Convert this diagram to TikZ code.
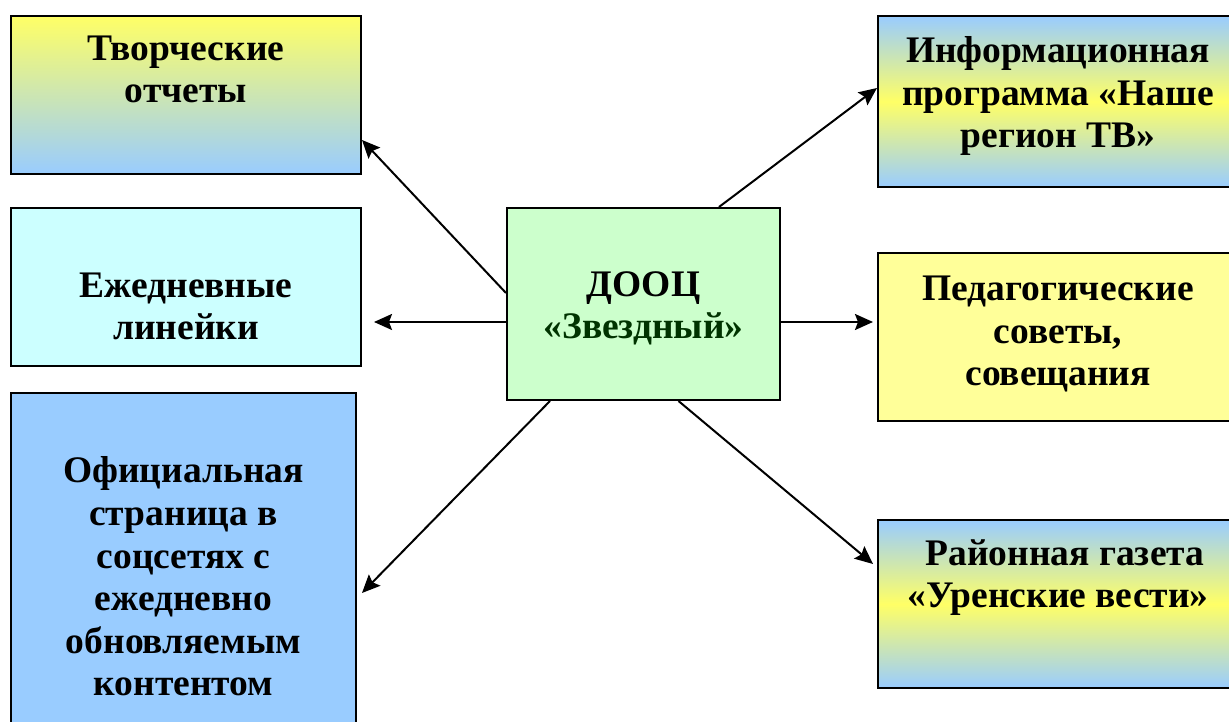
\documentclass[tikz,border=0pt]{standalone}
\usepackage{fontspec}
\setmainfont{Liberation Serif}
\usetikzlibrary{arrows.meta}
\definecolor{boxyellow}{HTML}{FFFF66}
\definecolor{boxblue}{HTML}{99CCFF}
\definecolor{boxcyan}{HTML}{CCFFFF}
\definecolor{boxgreen}{HTML}{CCFFCC}
\definecolor{paleyellow}{HTML}{FFFF99}
\definecolor{darkgreen}{HTML}{003300}
\begin{document}
\begin{tikzpicture}[x=1pt,y=1pt,
  box/.style={draw,line width=2pt,anchor=north west,inner sep=0pt,align=center,
    font=\fontsize{37.5}{42.6}\selectfont\bfseries},
  tvbox/.style={top color=boxblue,bottom color=boxblue,middle color=boxyellow},
  arr/.style={line width=2pt,-{Stealth[length=18pt,width=16pt,inset=3pt]}}]
\useasboundingbox (0,0) rectangle (1229,722);
\node[box,minimum width=350pt,minimum height=158pt,text height=87pt,text depth=71pt,
  top color=boxyellow,bottom color=boxblue] (tvor) at (10,707) {Творческие\\отчеты};
\node[box,minimum width=350pt,minimum height=158pt,text height=132pt,text depth=26pt,
  fill=boxcyan] (ezh) at (10,515) {Ежедневные\\линейки};
\node[box,minimum width=345pt,minimum height=348pt,text height=303pt,text depth=45pt,
  fill=boxblue] (ofic) at (10,330) {Официальная\\страница в\\соцсетях с\\ежедневно\\обновляемым\\контентом};
\node[box,minimum width=273pt,minimum height=192pt,text height=131pt,text depth=61pt,
  fill=boxgreen] (zvezd) at (506,515) {ДООЦ\\\textcolor{darkgreen}{«Звездный»}};
\node[box,minimum width=360pt,minimum height=171pt,text height=132pt,text depth=39pt,
  tvbox] (info) at (877,707) {Информационная\\программа «Наше\\регион ТВ»};
\node[box,minimum width=360pt,minimum height=168pt,text height=133pt,text depth=35pt,
  fill=paleyellow] (ped) at (877,470) {Педагогические\\советы,\\совещания};
\node[box,minimum width=360pt,minimum height=168pt,text height=88pt,text depth=80pt,
  tvbox] (rayon) at (877,203) {\hspace*{14pt}Районная газета\\«Уренские вести»};
\draw[arr] ([yshift=11pt]zvezd.west) -- ([yshift=-45pt]tvor.east);
\draw[arr,shorten >=12pt] ([yshift=-18pt]zvezd.west) -- ([yshift=-18pt]zvezd.west -| ezh.east);
\draw[arr] ([xshift=-93.5pt]zvezd.south) -- ([xshift=5pt,yshift=-26pt]ofic.east);
\draw[arr] ([xshift=75.5pt]zvezd.north) -- ([yshift=13.5pt]info.west);
\draw[arr,shorten >=4pt] ([yshift=-18pt]zvezd.east) -- ([yshift=-18pt]zvezd.east -| ped.west);
\draw[arr] ([xshift=35pt]zvezd.south) -- ([xshift=-4pt,yshift=40pt]rayon.west);
\end{tikzpicture}
\end{document}
